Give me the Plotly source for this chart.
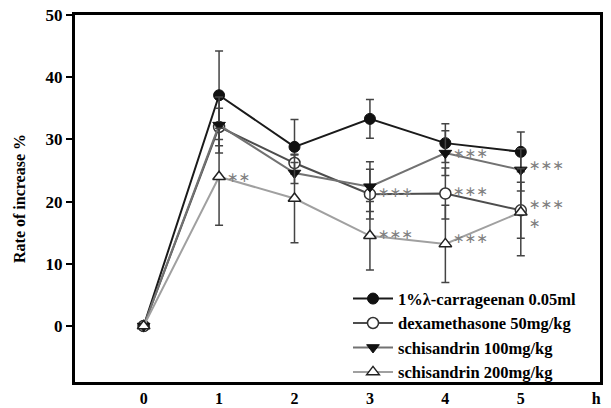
import plotly.graph_objects as go

hours = [0, 1, 2, 3, 4, 5]
x_ticks = [0, 1, 2, 3, 4, 5, 6]
x_ticktext = ["0", "1", "2", "3", "4", "5", "h"]
y_ticks = [0, 10, 20, 30, 40, 50]

names = ["1%λ-carrageenan 0.05ml", "dexamethasone 50mg/kg",
         "schisandrin 100mg/kg", "schisandrin 200mg/kg"]
carrageenan = [0, 37.1, 28.8, 33.3, 29.4, 28.0]
carrageenan_err = [0, 7.1, 4.4, 3.1, 3.1, 3.2]
dexa = [0, 32.0, 26.2, 21.2, 21.3, 18.6]
dexa_err = [0, 3.0, 1.3, 4.0, 4.1, 4.5]
sch100 = [0, 32.3, 24.6, 22.4, 27.8, 25.1]
sch100_err = [0, 4.5, 1.7, 4.0, 3.6, 3.4]
sch200 = [0, 24.0, 20.5, 14.5, 13.2, 18.3]
sch200_err = [0, 7.8, 7.1, 5.5, 6.2, 7.0]

# significance marks
sig_x = [1, 3, 3, 4, 4, 4, 5, 5, 5]
sig_y = [24.0, 21.6, 14.8, 27.8, 21.7, 14.1, 25.9, 19.6, 16.6]
sig_text = ["∗∗", "∗∗∗", "∗∗∗", "∗∗∗", "∗∗∗", "∗∗∗", "∗∗∗", "∗∗∗", "∗"]

font_serif = "Liberation Serif"

series = [
    (names[0], carrageenan, carrageenan_err, "#1a1a1a", dict(symbol="circle", size=11, color="#111111", line=dict(color="#111111", width=1))),
    (names[1], dexa, dexa_err, "#4d4d4d", dict(symbol="circle", size=11, color="white", line=dict(color="#333333", width=1.5))),
    (names[2], sch100, sch100_err, "#727272", dict(symbol="triangle-down", size=11, color="#111111", line=dict(color="#111111", width=1))),
    (names[3], sch200, sch200_err, "#a0a0a0", dict(symbol="triangle-up", size=11, color="white", line=dict(color="#222222", width=1.5))),
]

fig = go.Figure()
for name, vals, err, lc, mk in series:
    fig.add_trace(go.Scatter(
        x=hours, y=vals, name=name, mode="lines+markers",
        line=dict(color=lc, width=2),
        marker=mk,
        error_y=dict(type="data", array=err, visible=True, color="#444444", thickness=1.5, width=4),
    ))

for xv, yv, t in zip(sig_x, sig_y, sig_text):
    fig.add_annotation(x=xv, y=yv, text=t, showarrow=False, xanchor="left",
                       xshift=6, yshift=0,
                       font=dict(family="DejaVu Sans", size=14, color="#808080"))

fig.update_layout(
    width=611, height=408,
    margin=dict(l=75, r=11, t=15, b=26, autoexpand=False),
    paper_bgcolor="white", plot_bgcolor="white",
    font=dict(family=font_serif, size=15, color="black"),
    showlegend=True,
    legend=dict(x=0.52, y=-0.02, xanchor="left", yanchor="bottom",
                bgcolor="rgba(0,0,0,0)", borderwidth=0,
                font=dict(family=font_serif, size=16.5, color="black", weight="bold"),
                tracegroupgap=0, itemwidth=40),
)
fig.update_xaxes(range=[-0.91, 6.05], tickvals=x_ticks, ticktext=x_ticktext,
                 automargin=False,
                 showgrid=False, zeroline=False, showline=True, linecolor="black",
                 linewidth=3, mirror=True, ticks="",
                 tickfont=dict(family=font_serif, size=16, color="black", weight="bold"))
fig.update_yaxes(range=[-9, 50], tickvals=y_ticks, showgrid=False, zeroline=False,
                 automargin=False,
                 showline=True, linecolor="black", linewidth=3, mirror=True,
                 ticks="outside", ticklen=6, tickwidth=2, tickcolor="black",
                 tickfont=dict(family=font_serif, size=17, color="black", weight="bold"),
                 title=dict(text="Rate of increase %", standoff=16,
                            font=dict(family=font_serif, size=16, color="black", weight="bold")))

fig.write_html("out.html")
